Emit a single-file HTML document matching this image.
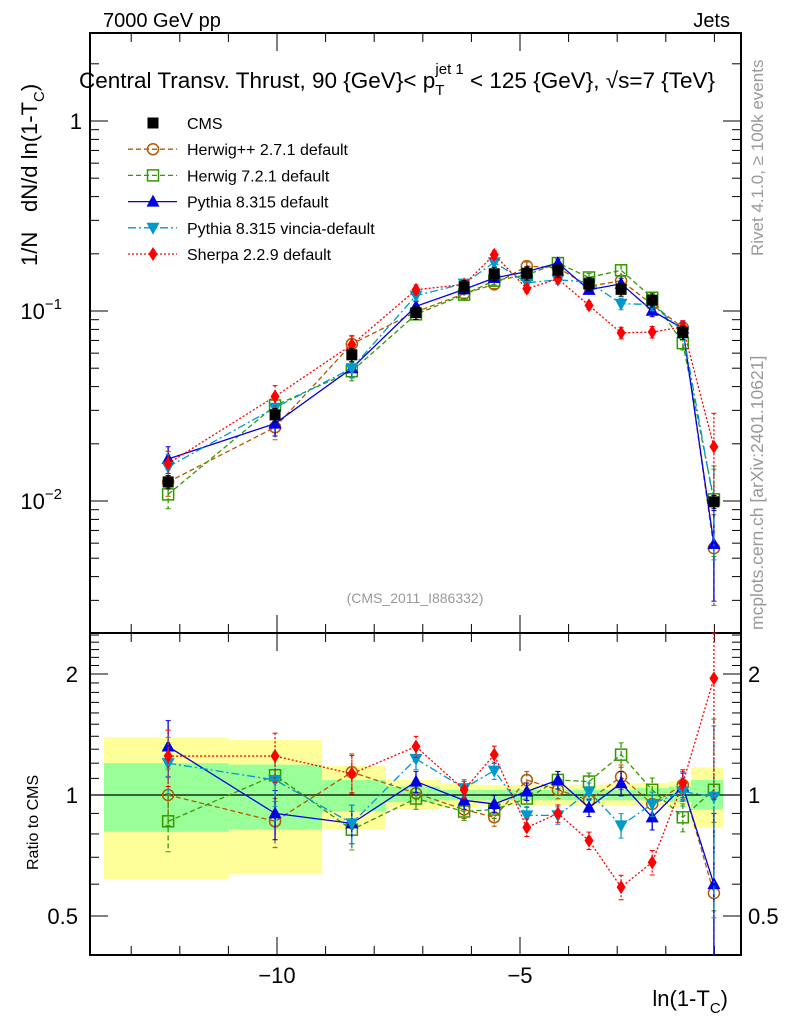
<!DOCTYPE html>
<html><head><meta charset="utf-8"><style>
body{margin:0;background:#fff;}
svg{display:block;font-family:"Liberation Sans",sans-serif;}
</style></head><body>
<svg id="c" width="786" height="1024" viewBox="0 0 786 1024"></svg>
<script>
const xCenters=[-12.24,-10.04,-8.46,-7.14,-6.15,-5.53,-4.86,-4.22,-3.58,-2.92,-2.28,-1.65,-1.01];
const binEdges=[-13.56,-10.99,-9.07,-7.76,-6.65,-5.85,-5.2,-4.55,-3.9,-3.25,-2.6,-1.95,-1.48,-0.82];
const cmsVals=[0.0126,0.0284,0.0588,0.098,0.134,0.157,0.158,0.164,0.139,0.13,0.114,0.077,0.0099];
const bandGreenHi=[1.2,1.19,1.09,1.05,1.03,1.03,1.03,1.03,1.03,1.03,1.04,1.05,1.09];
const bandGreenLo=[0.81,0.82,0.91,0.96,0.97,0.97,0.97,0.97,0.97,0.97,0.97,0.96,0.92];
const bandYelHi=[1.39,1.37,1.18,1.09,1.07,1.06,1.06,1.06,1.06,1.07,1.07,1.08,1.17];
const bandYelLo=[0.617,0.635,0.82,0.92,0.93,0.94,0.94,0.94,0.94,0.94,0.94,0.93,0.83];
const herwigpp=[1.0,0.86,1.14,1.01,0.92,0.88,1.09,1.03,0.97,1.11,0.95,1.06,0.57];
const herwig7=[0.86,1.12,0.82,0.98,0.91,0.92,0.98,1.09,1.08,1.26,1.03,0.88,1.03];
const pythia=[1.32,0.9,0.85,1.08,0.97,0.95,1.02,1.09,0.93,1.07,0.88,1.05,0.6];
const vincia=[1.2,1.09,0.85,1.23,1.04,1.15,0.89,0.89,1.02,0.84,0.95,1.02,0.99];
const sherpa=[1.25,1.25,1.13,1.32,1.03,1.26,0.83,0.9,0.77,0.59,0.68,1.07,1.95];
const relErr=[0.16,0.14,0.11,0.06,0.05,0.05,0.05,0.05,0.05,0.07,0.07,0.08,0.5];
const legendLabels=["CMS","Herwig++ 2.7.1 default","Herwig 7.2.1 default","Pythia 8.315 default","Pythia 8.315 vincia-default","Sherpa 2.2.9 default"];

const NS="http://www.w3.org/2000/svg";
const svg=document.getElementById('c');
function el(tag,attrs,parent){const e=document.createElementNS(NS,tag);for(const k in attrs)e.setAttribute(k,attrs[k]);(parent||svg).appendChild(e);return e;}
const L=90,R=741,T=33,MB=633,RB=955;
const X=v=>277+(v+10)*48.6;
const YM=v=>121-Math.log10(v)*190;
const YR=v=>795-Math.log2(v)*121;

const gb=el('g',{});


for(let i=0;i<xCenters.length;i++){
  const x0=X(binEdges[i]),x1=X(binEdges[i+1]);
  const r1=el('rect',{x:x0,y:YR(bandYelHi[i]),width:x1-x0,height:YR(bandYelLo[i])-YR(bandYelHi[i]),fill:'#ffff99'},gb);
  
  
  const r2=el('rect',{x:x0,y:YR(bandGreenHi[i]),width:x1-x0,height:YR(bandGreenLo[i])-YR(bandGreenHi[i]),fill:'#99ff99'},gb);
  
  
}
el('line',{x1:L,x2:R,y1:YR(1),y2:YR(1),stroke:'#000','stroke-width':1.2});

el('rect',{x:L,y:T,width:R-L,height:MB-T,fill:'none',stroke:'#000','stroke-width':2});
el('rect',{x:L,y:MB,width:R-L,height:RB-MB,fill:'none',stroke:'#000','stroke-width':2});

for(let v=-13;v<=-1;v++){
  const big=(v%5===0);const len=big?18:9;const x=X(v);
  [T,MB].forEach(y0=>el('line',{x1:x,x2:x,y1:y0,y2:y0+len,stroke:'#000'}));
  [MB,RB].forEach(y0=>el('line',{x1:x,x2:x,y1:y0,y2:y0-len,stroke:'#000'}));
  if(big){const t=el('text',{x:x,y:983,'font-size':22,'text-anchor':'middle'});t.textContent='\u2212'+(-v);
    }
}
for(let d=-3;d<=0;d++){for(let m=1;m<=9;m++){const v=m*Math.pow(10,d);const y=YM(v);if(y<T||y>MB)continue;
  const len=m===1?18:9;el('line',{x1:L,x2:L+len,y1:y,y2:y,stroke:'#000'});el('line',{x1:R,x2:R-len,y1:y,y2:y,stroke:'#000'});}}
function ylab(txt,sup,y){const t=el('text',{x:82,y:y+8,'font-size':22,'text-anchor':'end'});
  
  if(sup){t.setAttribute('x',62);t.textContent='10';const s=el('tspan',{dy:-10,'font-size':15},t);s.textContent=sup;}else t.textContent=txt;}
ylab('1',null,YM(1));ylab('',"\u22121",YM(0.1));ylab('',"\u22122",YM(0.01));
for(let v=0.4;v<=2.51;v+=0.1){const y=YR(v);if(y<MB||y>RB)continue;const big=[0.5,1,2].some(b=>Math.abs(b-v)<1e-6);
  const len=big?18:9;el('line',{x1:L,x2:L+len,y1:y,y2:y,stroke:'#000'});el('line',{x1:R,x2:R-len,y1:y,y2:y,stroke:'#000'});}
[[2,'2'],[1,'1'],[0.5,'0.5']].forEach(([v,s])=>{
  const a=el('text',{x:78,y:YR(v)+8,'font-size':22,'text-anchor':'end'});a.textContent=s;
  
  const b=el('text',{x:748,y:YR(v)+8,'font-size':22});b.textContent=s;
  });

const series=[
 {name:'herwigpp',r:herwigpp,c:'#b35900',dash:'5,3',m:'circle'},
 {name:'herwig7',r:herwig7,c:'#339900',dash:'5,3',m:'square'},
 {name:'pythia',r:pythia,c:'#0000e6',dash:'',m:'up'},
 {name:'vincia',r:vincia,c:'#0099cc',dash:'8,3,2,3',m:'down'},
 {name:'sherpa',r:sherpa,c:'#ff0000',dash:'2,2',m:'diamond'}];
function marker(g,m,x,y,c){
  if(m==='circle')return el('circle',{cx:x,cy:y,r:5.5,fill:'none',stroke:c,'stroke-width':1.5},g);
  if(m==='square')return el('rect',{x:x-5.5,y:y-5.5,width:11,height:11,fill:'none',stroke:c,'stroke-width':1.5},g);
  if(m==='up')return el('polygon',{points:`${x},${y-7} ${x-6.5},${y+5} ${x+6.5},${y+5}`,fill:c},g);
  if(m==='down')return el('polygon',{points:`${x},${y+7} ${x-6.5},${y-5} ${x+6.5},${y-5}`,fill:c},g);
  if(m==='diamond')return el('polygon',{points:`${x},${y-7} ${x-4.5},${y} ${x},${y+7} ${x+4.5},${y}`,fill:c},g);
  return el('rect',{x:x-5.5,y:y-5.5,width:11,height:11,fill:c},g);
}
function errbar(g,x,y1,y2,c,dash){el('line',{x1:x,x2:x,y1:y1,y2:y2,stroke:c,'stroke-width':1.3,'stroke-dasharray':dash},g);
  el('line',{x1:x-2.5,x2:x+2.5,y1:y1,y2:y1,stroke:c},g);el('line',{x1:x-2.5,x2:x+2.5,y1:y2,y2:y2,stroke:c},g);}
function clipY(y,top,bot){return Math.max(top,Math.min(bot,y));}
series.forEach(s=>{
  const gm=el('g',{});
  const gr=el('g',{});
  const pm=xCenters.map((x,i)=>[X(x),YM(cmsVals[i]*s.r[i])]);
  const pr=xCenters.map((x,i)=>[X(x),YR(s.r[i])]);
  el('polyline',{points:pm.map(p=>p.join(',')).join(' '),fill:'none',stroke:s.c,'stroke-width':1.3,'stroke-dasharray':s.dash},gm);
  el('polyline',{points:pr.map(p=>p.join(',')).join(' '),fill:'none',stroke:s.c,'stroke-width':1.3,'stroke-dasharray':s.dash},gr);
  xCenters.forEach((x,i)=>{const v=cmsVals[i]*s.r[i],e=relErr[i];
    errbar(gm,X(x),YM(v*(1+e)),clipY(YM(Math.max(v*(1-e),1e-4)),T,MB),s.c,s.dash);
    errbar(gr,X(x),clipY(YR(s.r[i]*(1+e)),MB,RB),clipY(YR(Math.max(s.r[i]*(1-e),0.01)),MB,RB),s.c,s.dash);
    const a=marker(gm,s.m,pm[i][0],pm[i][1],s.c);
    const b=marker(gr,s.m,pr[i][0],pr[i][1],s.c);
  });
});
const gc=el('g',{});
xCenters.forEach((x,i)=>{errbar(gc,X(x),YM(cmsVals[i]*1.08),YM(cmsVals[i]*0.92),'#000','');
  const p=marker(gc,'sq',X(x),YM(cmsVals[i]),'#000');});

const styles=[{c:'#000',m:'sq',dash:'',line:false}].concat(series.map(s=>({c:s.c,m:s.m,dash:s.dash,line:true})));
legendLabels.forEach((lab,i)=>{const y=123+i*26.2;
  const g=el('g',{});
  if(styles[i].line)el('line',{x1:128,x2:177,y1:y,y2:y,stroke:styles[i].c,'stroke-width':1.3,'stroke-dasharray':styles[i].dash},g);
  marker(g,styles[i].m,153,y,styles[i].c);
  const t=el('text',{x:187,y:y+6,'font-size':16},g);t.textContent=lab;});
</script>
<svg style="position:absolute;left:0;top:0" width="786" height="1024">
<text x="103" y="27" font-size="20" font-family="Liberation Sans">7000 GeV pp</text>
<text x="730" y="27" font-size="20" font-family="Liberation Sans" text-anchor="end">Jets</text>
<text x="79" y="88" font-size="22.5" font-family="Liberation Sans">Central Transv. Thrust, 90 {GeV}&lt; p<tspan dy="7" font-size="15">T</tspan><tspan dy="-21" dx="-9" font-size="15">jet 1</tspan><tspan dy="14"> &lt; 125 {GeV}, √s=7 {TeV}</tspan></text>
<text x="415" y="603" font-size="14" fill="#999" text-anchor="middle" font-family="Liberation Sans">(CMS_2011_I886332)</text>
<text transform="translate(763,256) rotate(-90)" font-size="17" fill="#999" font-family="Liberation Sans">Rivet 4.1.0, ≥ 100k events</text>
<text transform="translate(763,630) rotate(-90)" font-size="17.5" fill="#999" font-family="Liberation Sans">mcplots.cern.ch [arXiv:2401.10621]</text>
<text transform="translate(37,266) rotate(-90)" font-size="22" font-family="Liberation Sans">1/N</text>
<text transform="translate(37,212) rotate(-90)" font-size="22" font-family="Liberation Sans">dN/d ln(1-T<tspan dy="7" font-size="15">C</tspan><tspan dy="-7">)</tspan></text>
<text transform="translate(38,870) rotate(-90)" font-size="16" font-family="Liberation Sans">Ratio to CMS</text>
<text x="728" y="1006" font-size="22" text-anchor="end" font-family="Liberation Sans">ln(1-T<tspan dy="7" font-size="15">C</tspan><tspan dy="-7">)</tspan></text>
</svg>
</body></html>
